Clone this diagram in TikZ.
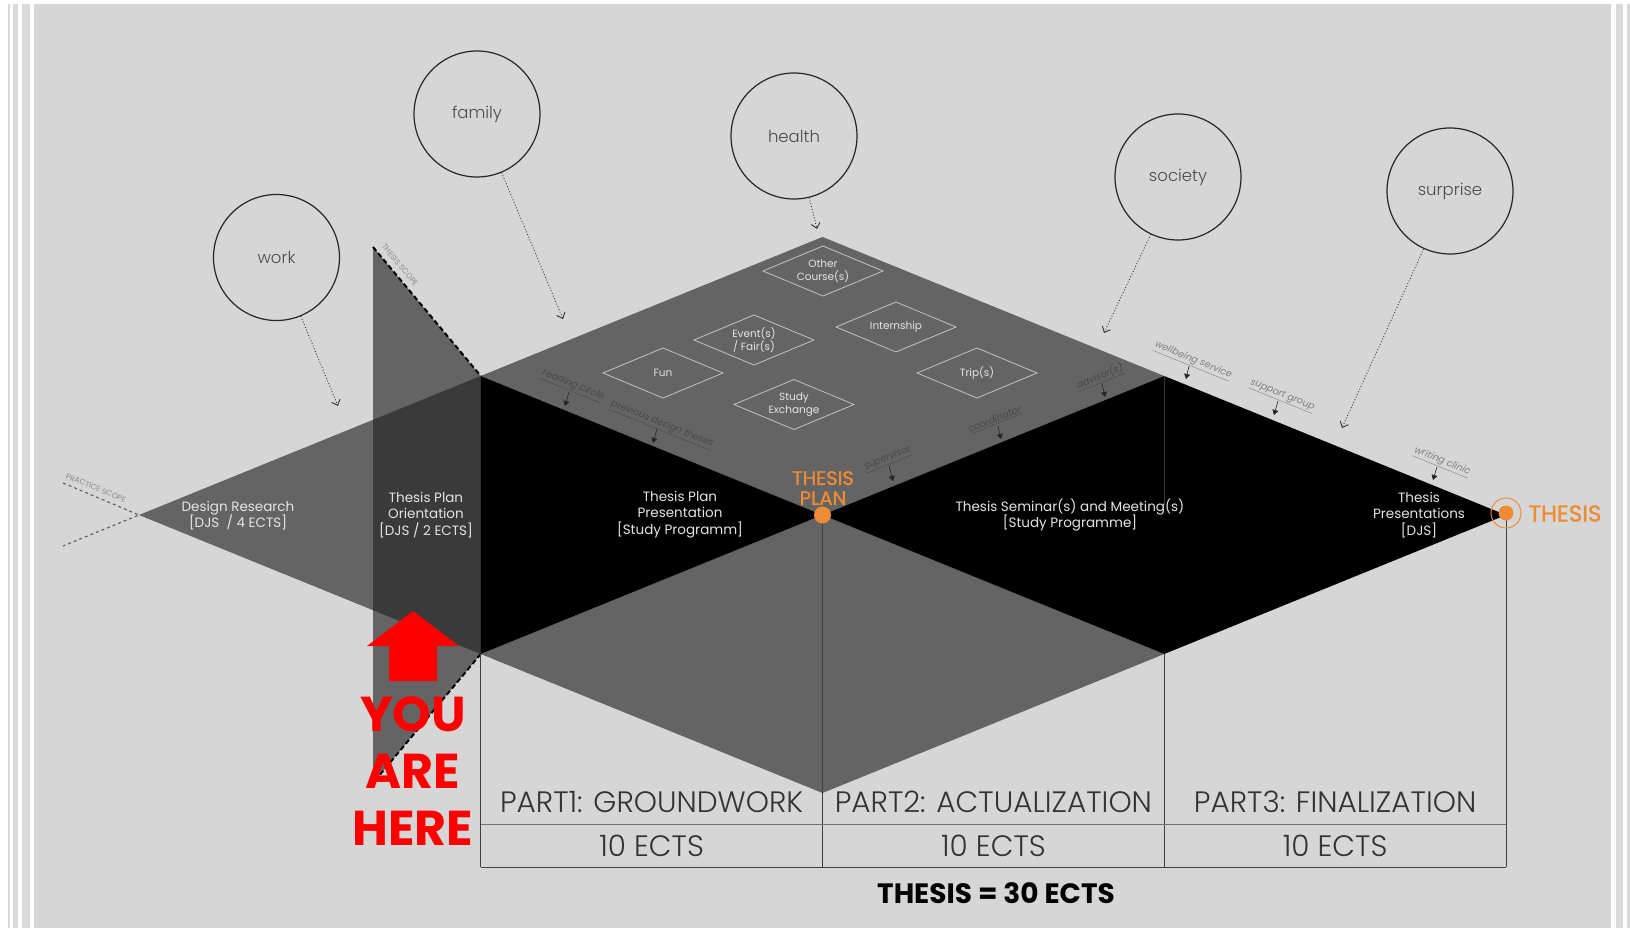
\documentclass[tikz,border=0pt]{standalone}
\usepackage{fontspec}
\setmainfont{Poppins}
\newfontfamily\poplight{Poppins Light}
\newfontfamily\popsemi{Poppins}[FakeBold=1.2]
\usetikzlibrary{arrows.meta,shapes.geometric}
\definecolor{bg}{HTML}{D6D6D6}
\definecolor{stripe}{HTML}{DADADA}
\definecolor{midgrey}{HTML}{646464}
\definecolor{darkov}{HTML}{3A3A3A}
\definecolor{orng}{HTML}{EF8B35}
\definecolor{lbl}{HTML}{E4E4E4}
\definecolor{youred}{HTML}{FF0000}
\begin{document}
\begin{tikzpicture}[x=1pt,y=-1pt,
  circ/.style={circle,draw=black!85,line width=1.2pt,minimum size=126pt,inner sep=0pt,text=black!70,font=\poplight\fontsize{16.5}{19}\selectfont},
  infl/.style={draw=black!80,line width=0.9pt,dotted,-{Straight Barb[length=5pt,width=9pt]}},
  body/.style={text=lbl,align=center,font=\fontsize{13.5}{16.7}\selectfont},
  dtext/.style={text=lbl,align=center,font=\fontsize{10.5}{13.3}\selectfont},
  dline/.style={draw=lbl!85!black,line width=0.8pt},
  res/.style={font=\fontsize{9.5}{11}\selectfont\itshape,inner sep=1pt},
  resdark/.style={res,text=black!72},
  reslight/.style={res,text=black!50},
  resarrow/.style={draw=black!85,line width=0.6pt,-{Triangle[length=5pt,width=6pt]}},
  tbl/.style={draw=black!75,line width=1pt},
  part/.style={text=black!80,font=\poplight\fontsize{29.5}{32}\selectfont},
  scopelbl/.style={text=black!45,font=\fontsize{7.8}{9}\selectfont,inner sep=0pt},
  orangetxt/.style={text=orng,align=center},
  bigred/.style={text=youred,align=center,font=\fontsize{49}{57}\selectfont\bfseries},
]
\useasboundingbox (0,0) rectangle (1630,928);
% slide frame
\fill[white] (0,0) rectangle (1630,928);
\fill[stripe] (8,4) rectangle (10,928);
\fill[stripe] (13,4) rectangle (18,928);
\fill[stripe] (22,4) rectangle (30,928);
\fill[bg] (34,4) rectangle (1611,928);
\fill[stripe] (1616,4) rectangle (1623,928);
\fill[stripe] (1627,4) rectangle (1630,928);

% main shapes
\fill[midgrey] (373,247) -- (480.75,376) -- (480.75,654) -- (373,783) -- cycle;
\fill[midgrey] (139,515) -- (480.75,376) -- (480.75,654) -- cycle;
\fill[darkov] (373,419.8) -- (480.75,376) -- (480.75,654) -- (373,610.2) -- cycle;
\fill[midgrey] (480.75,376) -- (822.5,237) -- (1164.25,376) -- (822.5,515) -- cycle;
\fill[midgrey] (480.75,654) -- (822.5,515) -- (1164.25,654) -- (822.5,793) -- cycle;
\fill[black] (480.75,376) -- (822.5,515) -- (480.75,654) -- cycle;
\fill[black] (822.5,515) -- (1164.25,376) -- (1506,515) -- (1164.25,654) -- cycle;
\draw[black!78,line width=0.6pt] (1164.25,376) -- (1164.25,505);

% scope lines
\draw[black!60,line width=1.2pt,dashed] (63,483) -- (139,515) -- (63,546);
\draw[black,line width=2pt,dash pattern=on 5pt off 3pt] (373,247) -- (480.75,376);
\draw[black,line width=2pt,dash pattern=on 5pt off 3pt] (480.75,654) -- (373,783);
\node[scopelbl,rotate=-22.1] (pscope) at (96,488) {PRACTICE SCOPE};
\node[scopelbl,rotate=-50.3] (tscope) at (400,265) {THESIS SCOPE};

% table
\draw[tbl] (480.75,654) -- (480.75,867);
\draw[tbl] (822.5,515) -- (822.5,867);
\draw[tbl] (1164.25,654) -- (1164.25,867);
\draw[tbl] (1506,515) -- (1506,867);
\draw[draw=black!55,line width=1pt] (480.75,824) -- (1506,824);
\draw[tbl] (480.75,867) -- (1506,867);
\node[part] (p1) at (651.6,802) {PART1: GROUNDWORK};
\node[part] (p2) at (993.4,802) {PART2: ACTUALIZATION};
\node[part] (p3) at (1335.1,802) {PART3: FINALIZATION};
\node[part] (e1) at (651.6,846) {10 ECTS};
\node[part] (e2) at (993.4,846) {10 ECTS};
\node[part] (e3) at (1335.1,846) {10 ECTS};
\node[font=\fontsize{28}{30}\selectfont\bfseries,text=black] (total) at (996,893) {THESIS = 30 ECTS};

% body texts
\node[body] (dr) at (238,515.5) {Design Research\\{}[DJS\ \ / 4 ECTS]};
\node[body] (tpo) at (426,515) {Thesis Plan\\Orientation\\{}[DJS / 2 ECTS]};
\node[body] (tpp) at (680,514.5) {Thesis Plan\\Presentation\\{}[Study Programm]};
\node[body] (tsm) at (1070,515) {Thesis Seminar(s) and Meeting(s)\\{}[Study Programme]};
\node[body] (tpr) at (1419,515) {Thesis\\Presentations\\{}[DJS]};

% milestones
\node[circle,fill=orng,minimum size=17pt,inner sep=0pt] (tpdot) at (822.5,515) {};
\node[orangetxt,font=\popsemi\fontsize{19.5}{20}\selectfont] (tplan) at (823,488) {THESIS\\PLAN};
\node[circle,draw=orng,line width=1pt,minimum size=30pt,inner sep=0pt] (thring) at (1506,513) {};
\node[circle,fill=orng,minimum size=15pt,inner sep=0pt] (thdot) at (1506,513) {};
\node[orangetxt,font=\popsemi\fontsize{23}{24}\selectfont] (thesis) at (1565,513.5) {THESIS};

% activity diamonds
\foreach \nm/\cx/\cy/\txt in {oc/823/271/{Other\\Course(s)},
    intern/896/327/{Internship},
    ev/754/340/{Event(s)\\/ Fair(s)},
    fun/663/373/{Fun},
    trip/977/373/{Trip(s)},
    se/794/404.5/{Study\\Exchange}}{
  \node[dtext] (\nm) at (\cx,\cy) {\txt};
  \draw[dline] (\cx-60,\cy) -- (\cx,\cy-25) -- (\cx+60,\cy) -- (\cx,\cy+25) -- cycle;
}

% resource labels
\node[resdark,rotate=-22.1] (rc) at (573,386) {\underline{reading circle}};
\coordinate (rcA) at (569,392); \coordinate (rcB) at (565,406);
\node[resdark,rotate=-22.1] (pdt) at (662,425) {\underline{previous design theses}};
\coordinate (pdtA) at (657,429); \coordinate (pdtB) at (653,443);
\node[resdark,rotate=22.1] (sup) at (888,459) {\underline{supervisor}};
\coordinate (supA) at (889,466); \coordinate (supB) at (893,481);
\node[resdark,rotate=22.1] (coo) at (995,420) {\underline{coordinator}};
\coordinate (cooA) at (998,426); \coordinate (cooB) at (1001,439);
\node[resdark,rotate=22.1] (adv) at (1100,377) {\underline{advisor(s)}};
\coordinate (advA) at (1102,383); \coordinate (advB) at (1105,397);
\node[reslight,rotate=-22.1] (wb) at (1193,361) {\underline{wellbeing service}};
\coordinate (wbA) at (1189,366); \coordinate (wbB) at (1186,379);
\node[reslight,rotate=-22.1] (sg) at (1282,396) {\underline{support group}};
\coordinate (sgA) at (1278,401); \coordinate (sgB) at (1274,415);
\node[reslight,rotate=-22.1] (wc) at (1442,462) {\underline{writing clinic}};
\coordinate (wcA) at (1437,467); \coordinate (wcB) at (1433,480);
\foreach \r in {rc,pdt,sup,coo,adv,wb,sg,wc}{
  \draw[resarrow] (\r A) -- (\r B);
}

% influence circles
\node[circ] (work) at (276.5,257.5) {work};
\node[circ] (family) at (477,114) {family};
\node[circ] (health) at (794,136) {health};
\node[circ] (society) at (1178,177) {society};
\node[circ] (surprise) at (1450,191) {surprise};
\coordinate (workT) at (338,406);
\coordinate (familyT) at (563,319);
\coordinate (healthT) at (817,229);
\coordinate (societyT) at (1104,333);
\coordinate (surpriseT) at (1342,428);
\foreach \c in {work,family,health,society,surprise}{
  \draw[infl] (\c) -- (\c T);
}

% you are here
\fill[youred] (413,611) -- (459,646) -- (437,646) -- (437,681) -- (389,681) -- (389,646) -- (367,646) -- cycle;
\node[bigred] (yah) at (413,771) {YOU\\ARE\\HERE};
\end{tikzpicture}
\end{document}
